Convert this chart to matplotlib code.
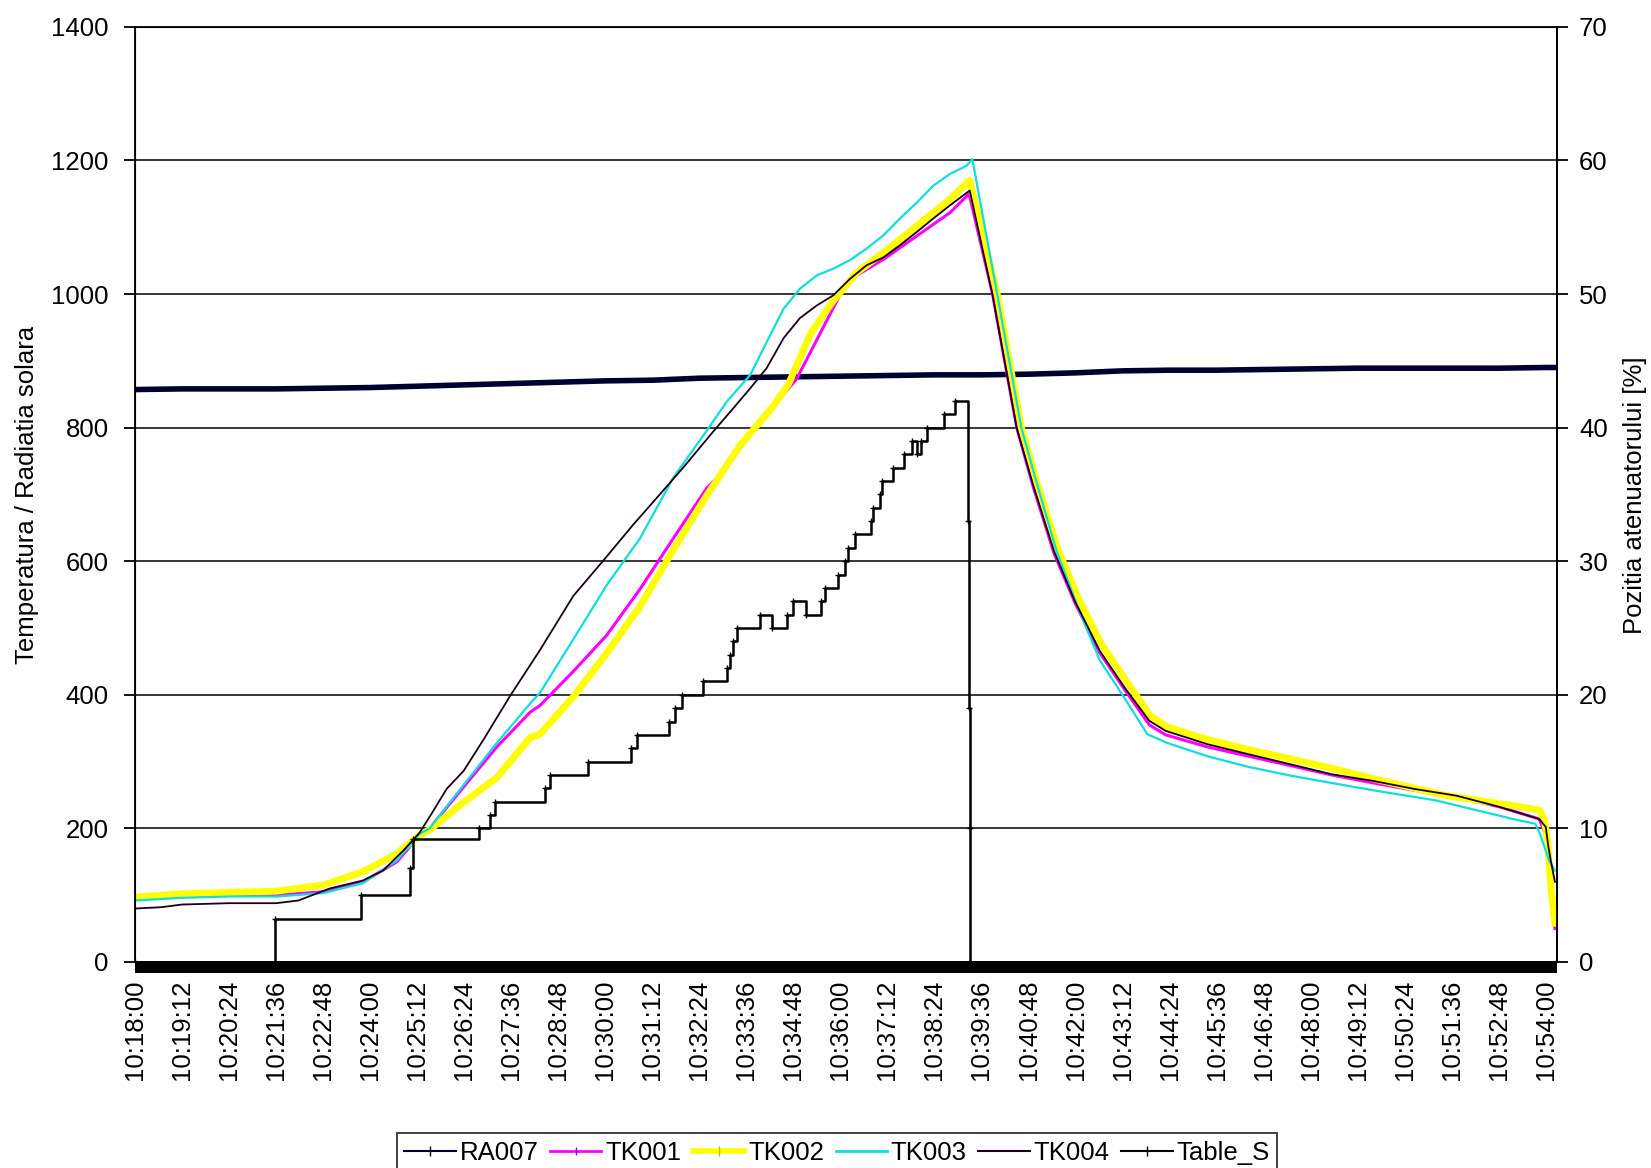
import numpy as np
import matplotlib.pyplot as plt
from matplotlib.lines import Line2D

plt.rcParams['font.family'] = ['Liberation Sans', 'DejaVu Sans']
plt.rcParams['font.size'] = 18.5

# all times are seconds after 10:18:00
ra007_t = [0, 72, 144, 216, 288, 360, 432, 504, 576, 648, 720, 792, 864, 936, 1008, 1080,
           1152, 1224, 1296, 1368, 1440, 1512, 1584, 1656, 1728, 1800, 1872, 1944, 2016,
           2088, 2160, 2176]
ra007_v = [857, 858, 858, 858, 859, 860, 862, 864, 866, 868, 870, 871, 874, 875, 876, 877,
           878, 879, 879, 880, 882, 885, 886, 886, 887, 888, 889, 889, 889, 889, 890, 890]

tk001_t = [0, 72, 144, 216, 288, 349, 401, 436, 451, 503, 554, 605, 620, 671, 722, 773, 824,
           875, 901, 950, 1013, 1079, 1105, 1146, 1197, 1248, 1277, 1313, 1350, 1375, 1407,
           1439, 1477, 1515, 1553, 1578, 1642, 1705, 1769, 1832, 1896, 1959, 2023, 2090,
           2150, 2158, 2163, 2167, 2174]
tk001_v = [95, 98, 100, 100, 105, 120, 150, 190, 200, 262, 322, 374, 384, 435, 489, 558, 634,
           709, 735, 800, 873, 998, 1028, 1052, 1087, 1122, 1150, 1000, 800, 712, 612,
           538, 463, 408, 355, 340, 322, 308, 294, 280, 268, 257, 247, 232,
           214, 195, 172, 100, 50]

tk002_t = [0, 72, 144, 216, 288, 349, 401, 436, 451, 503, 554, 605, 620, 671, 722, 773, 824,
           875, 926, 977, 1000, 1034, 1069, 1105, 1146, 1197, 1248, 1278, 1320, 1357, 1382,
           1412, 1444, 1480, 1518, 1555, 1580, 1642, 1705, 1769, 1832, 1906, 2008, 2110,
           2151, 2158, 2163, 2168, 2174]
tk002_v = [97, 102, 104, 106, 115, 135, 162, 190, 198, 239, 276, 336, 341, 397, 462, 532, 617,
           698, 773, 832, 864, 940, 990, 1032, 1062, 1102, 1142, 1170, 1000, 800, 714,
           620, 545, 475, 420, 368, 352, 333, 318, 304, 290, 272, 249, 234,
           227, 212, 180, 110, 58]

tk003_t = [0, 72, 144, 216, 288, 349, 401, 436, 451, 503, 554, 605, 620, 671, 722, 773, 824,
           875, 906, 942, 967, 993, 1018, 1044, 1069, 1095, 1120, 1146, 1171, 1197, 1222,
           1248, 1273, 1282, 1320, 1357, 1382, 1412, 1444, 1477, 1515, 1550, 1580, 1642,
           1705, 1769, 1832, 1896, 1991, 2110, 2144, 2151, 2165, 2174]
tk003_v = [92, 96, 98, 98, 103, 118, 152, 192, 200, 265, 328, 387, 403, 483, 564, 634, 725,
           795, 839, 879, 928, 978, 1008, 1028, 1038, 1051, 1068, 1088, 1113, 1137, 1162,
           1180, 1192, 1202, 1000, 800, 712, 612, 530, 452, 395, 341, 328, 308,
           292, 279, 268, 257, 242, 214, 207, 192, 152, 137]

tk004_t = [0, 40, 72, 144, 216, 250, 298, 349, 380, 411, 436, 454, 477, 503, 533, 574, 620,
           671, 717, 763, 799, 840, 886, 916, 942, 967, 993, 1018, 1044, 1069, 1095, 1120,
           1146, 1171, 1197, 1222, 1248, 1278, 1313, 1350, 1375, 1407, 1439, 1477, 1515,
           1553, 1578, 1642, 1705, 1769, 1832, 1896, 1959, 2023, 2090, 2150, 2160, 2164,
           2168, 2174]
tk004_v = [80, 82, 86, 88, 88, 92, 110, 122, 137, 167, 194, 222, 259, 286, 332, 398, 467,
           548, 601, 655, 695, 741, 795, 829, 859, 889, 934, 964, 983, 998, 1023, 1043,
           1055, 1073, 1093, 1113, 1133, 1155, 998, 799, 714, 615, 540, 466, 411,
           361, 346, 326, 311, 296, 281, 271, 259, 249, 232, 214, 202, 172,
           150, 120]

# attenuator position [%], right axis, step changes
table_t = [0, 214, 346, 421, 426, 526, 543, 551, 628, 636, 694, 760, 768, 817, 827, 837,
           870, 906, 911, 916, 921, 957, 975, 998, 1008, 1028, 1051, 1056, 1077, 1087,
           1092, 1102, 1127, 1130, 1140, 1143, 1160, 1177, 1189, 1198, 1203, 1212, 1238,
           1255, 1276, 1277, 1278, 1279, 2176]
table_v = [0, 3.2, 5, 7, 9.2, 10, 11, 12, 13, 14, 15, 16, 17, 18, 19, 20,
           21, 22, 23, 24, 25, 26, 25, 26, 27, 26, 27, 28, 29, 30,
           31, 32, 33, 34, 35, 36, 37, 38, 39, 38, 39, 40, 41,
           42, 33, 19, 10, 0, 0]

tick_sec = np.arange(0, 2161, 72)
tick_lbl = ["10:%02d:%02d" % (18 + s // 60, s % 60) for s in tick_sec]

fig = plt.figure(figsize=(16.51, 11.68), dpi=100)
ax = fig.add_axes([0.0818, 0.1764, 0.8612, 0.8006])

ax.plot(ra007_t, ra007_v, color='#000030', lw=4, zorder=2)
ax.plot(tk001_t, tk001_v, color='#ff00ff', lw=2.2, zorder=3)
ax.plot(tk002_t, tk002_v, color='#ffff00', lw=5, zorder=3)
ax.plot(tk003_t, tk003_v, color='#10dede', lw=1.6, zorder=4)
ax.plot(tk004_t, tk004_v, color='#1a0018', lw=1.3, zorder=5)

ax.set_xlim(0, 2177)
ax.set_ylim(0, 1400)
ax.set_yticks(np.arange(0, 1401, 200))
ax.set_xticks(tick_sec)
ax.set_xticklabels(tick_lbl)
ax.yaxis.grid(True, color='black', lw=1.1)
ax.set_axisbelow(True)
ax.tick_params(axis='y', length=8, width=1.3, pad=11)
ax.tick_params(axis='x', length=0, pad=9, labelrotation=90)
for s in ['left', 'top', 'right']:
    ax.spines[s].set_linewidth(1.3)
ax.spines['bottom'].set_linewidth(8.6)
ax.spines['bottom'].set_position(('outward', 3.6))
ax.spines['bottom'].set_capstyle('butt')

ax2 = ax.twinx()
ax2.plot(table_t, table_v, color='black', lw=1.8, drawstyle='steps-post',
         marker='+', ms=4, mew=1, zorder=6)
ax2.set_ylim(0, 70)
ax2.set_yticks(np.arange(0, 71, 10))
ax2.tick_params(axis='y', length=8, width=1.3, pad=8)
ax2.spines['bottom'].set_visible(False)
ax2.spines['right'].set_linewidth(1.3)

fig.text(27 / 1651, 0.5764, 'Temperatura / Radiatia solara', rotation=90,
         ha='center', va='center')
fig.text(1635 / 1651, 0.5764, 'Pozitia atenuatorului [%]', rotation=90,
         ha='center', va='center')

handles = [
    Line2D([], [], color='#000030', lw=1.5, marker='|', ms=7),
    Line2D([], [], color='#ff00ff', lw=2, marker='|', ms=6, mec='#8000ff'),
    Line2D([], [], color='#ffff00', lw=4, marker='|', ms=7, mec='#c0c000'),
    Line2D([], [], color='#10dede', lw=2),
    Line2D([], [], color='#1a0018', lw=1.5),
    Line2D([], [], color='black', lw=1.5, marker='|', ms=7),
]
names = ['RA007', 'TK001', 'TK002', 'TK003', 'TK004', 'Table_S']
leg = fig.legend(handles, names, loc='upper center', bbox_to_anchor=(0.507, 1 - 1120 / 1168),
                 ncol=6, frameon=True, fancybox=False, edgecolor='black', borderpad=0.3,
                 handlelength=2.0, handletextpad=0.15, columnspacing=0.45)
leg.get_frame().set_linewidth(1.3)

fig.savefig('out.png', dpi=100)
